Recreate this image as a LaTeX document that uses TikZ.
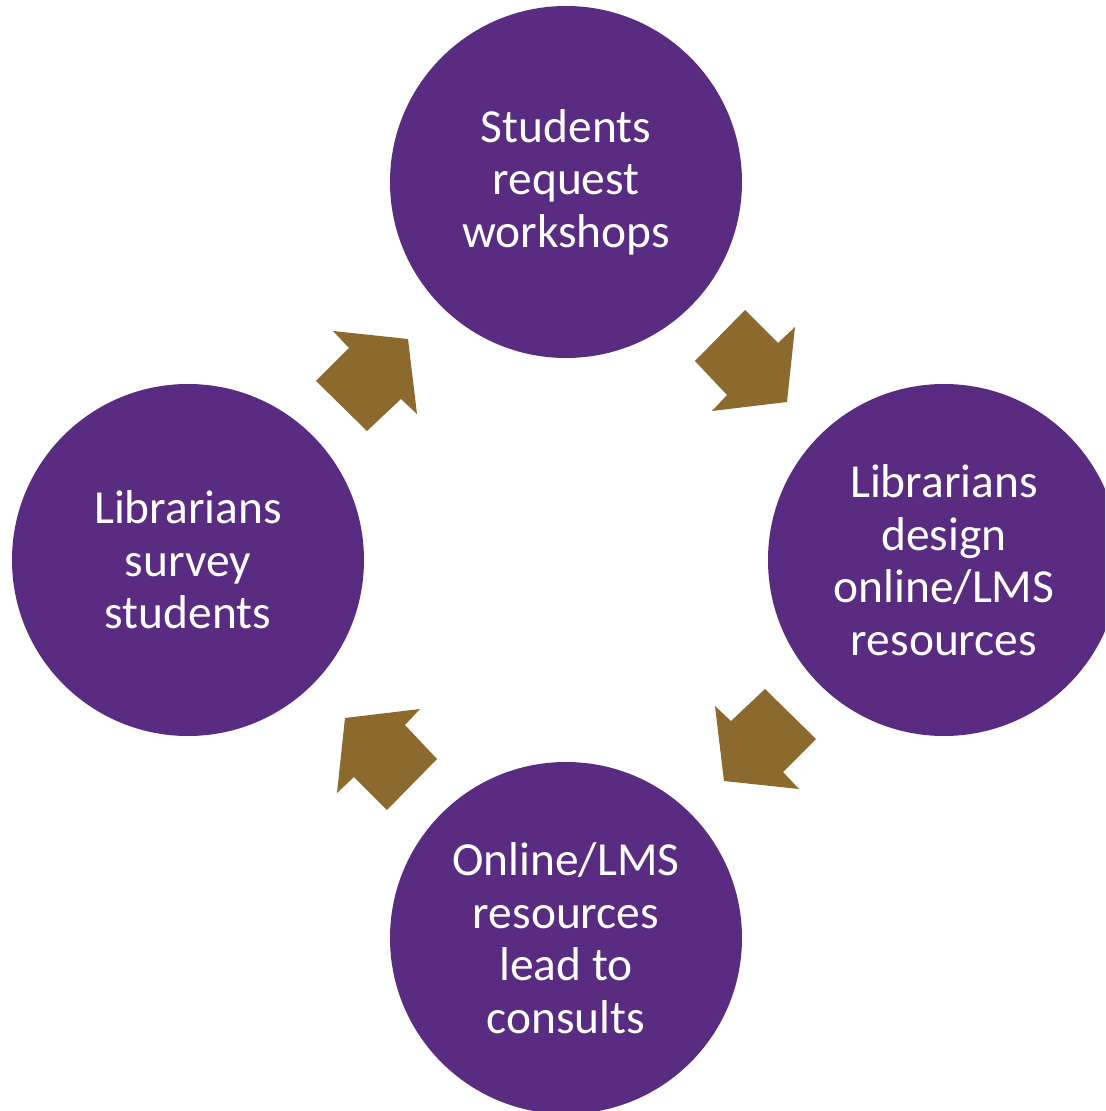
\documentclass[tikz,border=0pt]{standalone}
\usepackage{fontspec}
\setmainfont{Carlito}
\definecolor{stagepurple}{HTML}{592C82}
\definecolor{arrowgold}{HTML}{8C6A2D}
\newcommand{\cyclearrow}{%
	\fill[arrowgold] (1.79,2.50) -- (2.12,2.17) -- (2.29,2.33) -- (2.21,1.58)
		-- (1.46,1.49) -- (1.61,1.65) -- (1.29,1.99) -- cycle;}
\begin{document}
\begin{tikzpicture}
				\tikzstyle{stage}=[circle,fill=stagepurple,minimum size=3.52cm,inner sep=0pt,
				text=white,align=center,font=\fontsize{13.5}{14.95}\selectfont]
				\clip (-5.66,-5.51) rectangle (5.39,5.60);
				\fill[white] (-5.66,-5.51) rectangle (5.39,5.60);
				\node[stage] (request) at (0,3.78) {Students\\request\\workshops};
				\node[stage] (design) at (3.78,0) {Librarians\\design\\online/LMS\\resources};
				\node[stage] (consults) at (0,-3.78) {Online/LMS\\resources\\lead to\\consults};
				\node[stage] (survey) at (-3.78,0) {Librarians\\survey\\students};
				% block arrows between the stages
				\foreach \angle in {0,-90,-180,-270}
				{
					\begin{scope}[rotate=\angle]
						\cyclearrow
					\end{scope}
				}
			\end{tikzpicture}
\end{document}
